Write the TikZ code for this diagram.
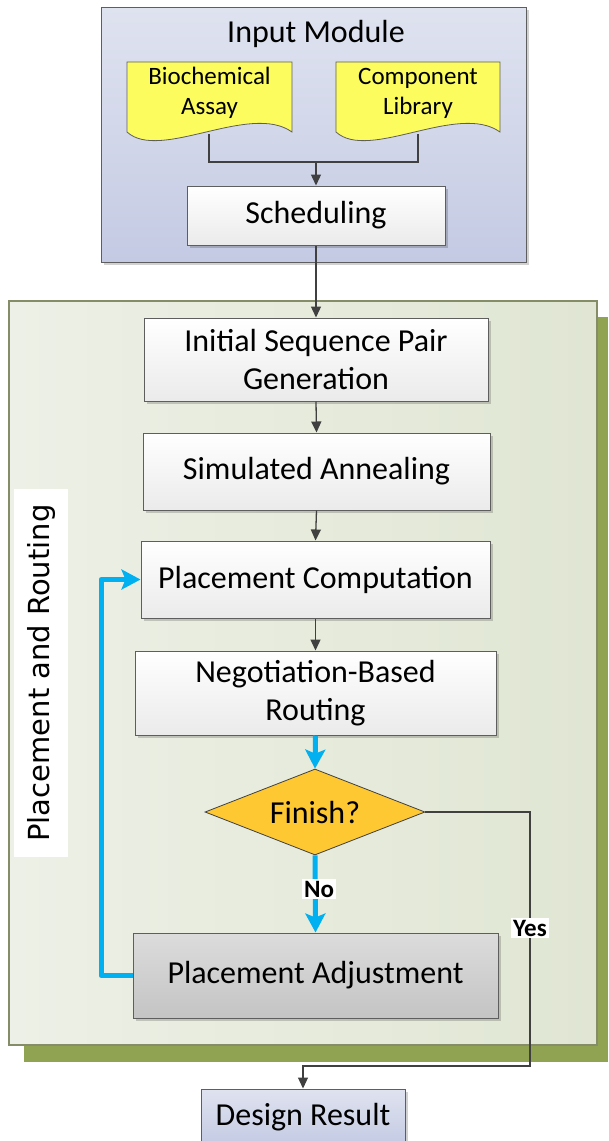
\documentclass[tikz,border=0pt]{standalone}
\usepackage{fontspec}
\setmainfont{Carlito}
\newfontfamily\labfont{DejaVu Sans}
\usetikzlibrary{arrows.meta,shapes.geometric,shadows}
\definecolor{lavtop}{HTML}{DFE3F0}
\definecolor{lavbot}{HTML}{C4CAE3}
\definecolor{panelleft}{HTML}{EDF0E6}
\definecolor{panelright}{HTML}{E0E6D3}
\definecolor{panelline}{HTML}{858D68}
\definecolor{olive}{HTML}{8FA352}
\definecolor{docyellow}{HTML}{FCFC5E}
\definecolor{gold}{HTML}{FDC832}
\definecolor{boxline}{HTML}{5E5E5E}
\definecolor{arrgray}{HTML}{404040}
\definecolor{cyanb}{HTML}{00B0F0}
\definecolor{greytop}{HTML}{DCDCDC}
\definecolor{greybot}{HTML}{C4C4C4}
\begin{document}
\begin{tikzpicture}[x=1pt,y=-1pt,
  bigtext/.style={font=\fontsize{32}{38}\selectfont},
  shad/.style={drop shadow={shadow xshift=3pt,shadow yshift=-3pt,fill=black,opacity=0.18}},
  procbox/.style={draw=boxline, line width=1pt, top color=white, bottom color=black!8,
    shad, bigtext, align=center, inner sep=0pt},
  lavbox/.style={draw=boxline, line width=1pt, top color=lavtop, bottom color=lavbot,
    shad, inner sep=0pt},
  docshape/.style={draw=boxline, line width=0.8pt, fill=docyellow},
  doctext/.style={font=\fontsize{25}{30}\selectfont, align=center, inner sep=0pt},
  darr/.style={draw=arrgray, line width=1.3pt, -{Triangle[length=11pt,width=10pt]}},
  dline/.style={draw=arrgray, line width=1.3pt},
  barr/.style={draw=cyanb, line width=5pt, -{Stealth[length=19pt,width=20pt,inset=4pt]}},
  yesno/.style={fill=white, font=\fontsize{25}{30}\selectfont\bfseries, inner sep=2pt}
]
\useasboundingbox (0,0) rectangle (608,1141);

% ---------- Input module ----------
\node[lavbox, minimum width=425pt, minimum height=255pt] (inmod) at (313.5,134.5) {};
\node[bigtext, anchor=base] (intitle) at (316,42) {Input Module};

% document shapes
\draw[docshape] (127,62) -- (292,62) -- (292,132)
  .. controls (250,102) and (160,162) .. (127,132) -- cycle;
\draw[docshape] (336,62) -- (500,62) -- (500,132)
  .. controls (458,102) and (369,162) .. (336,132) -- cycle;
\node[doctext] (bio) at (209.5,93) {Biochemical\\Assay};
\node[doctext] (comp) at (418,93) {Component\\Library};
\coordinate (bioB) at (209,134);
\coordinate (compB) at (418,134);
\coordinate (merge) at (316,162);

\node[procbox, minimum width=258pt, minimum height=59pt] (sched) at (316,215.5) {Scheduling};

\draw[dline] (bioB) |- (merge);
\draw[dline] (compB) |- (merge);
\draw[darr] (merge) -- (sched.north);

% ---------- Placement and routing panel ----------
\fill[olive] (24,317) rectangle (608,1062);
\node[draw=panelline, line width=1.3pt, left color=panelleft, right color=panelright,
  minimum width=588pt, minimum height=744pt, inner sep=0pt] (pr) at (303,673) {};
\node[fill=white, rotate=90, minimum width=368pt, minimum height=54pt, inner sep=0pt,
  font=\labfont\fontsize{29}{34}\selectfont] (prlab) at (41,673) {Placement and Routing};

\node[procbox, minimum width=344pt, minimum height=83pt] (isp) at (316,359.5) {Initial Sequence Pair\\Generation};
\node[procbox, minimum width=347pt, minimum height=77pt] (sa) at (316.5,471.5) {Simulated Annealing};
\node[procbox, minimum width=349pt, minimum height=77pt] (pc) at (315.5,579.5) {Placement Computation};
\node[procbox, minimum width=361pt, minimum height=84pt] (nbr) at (315.5,693) {Negotiation-Based\\Routing};
\node[diamond, draw=arrgray, line width=0.8pt, fill=gold, minimum width=220pt, minimum height=86pt,
  inner sep=0pt, aspect=2.56, bigtext] (fin) at (315,812) {Finish?};
\node[procbox, top color=greytop, bottom color=greybot, minimum width=365pt, minimum height=85pt] (pa) at (315.5,975.5) {Placement Adjustment};

\node[lavbox, bigtext, minimum width=204pt, minimum height=56pt] (dr) at (303,1117) {Design Result};

% ---------- connectors ----------
\draw[darr] (sched.south) -- (isp.north);
\draw[darr] (isp.south) -- (sa.north);
\draw[darr] (sa.south) -- (pc.north);
\draw[darr] (pc.south) -- (nbr.north);
\draw[barr] (nbr.south) -- (fin.north);
\draw[barr] (fin.south) -- (pa.north);
\coordinate (loopx) at (101,579.5);
\draw[barr, line join=round] (pa.west) -| (loopx) -- (pc.west);
\coordinate (yescorner) at (530,1066);
\draw[darr, line width=1.1pt] (fin.east) -| (yescorner) -| (dr.north);

\node[yesno] (nolab) at (319,889) {No};
\node[yesno] (yeslab) at (530,928) {Yes};
\end{tikzpicture}
\end{document}
